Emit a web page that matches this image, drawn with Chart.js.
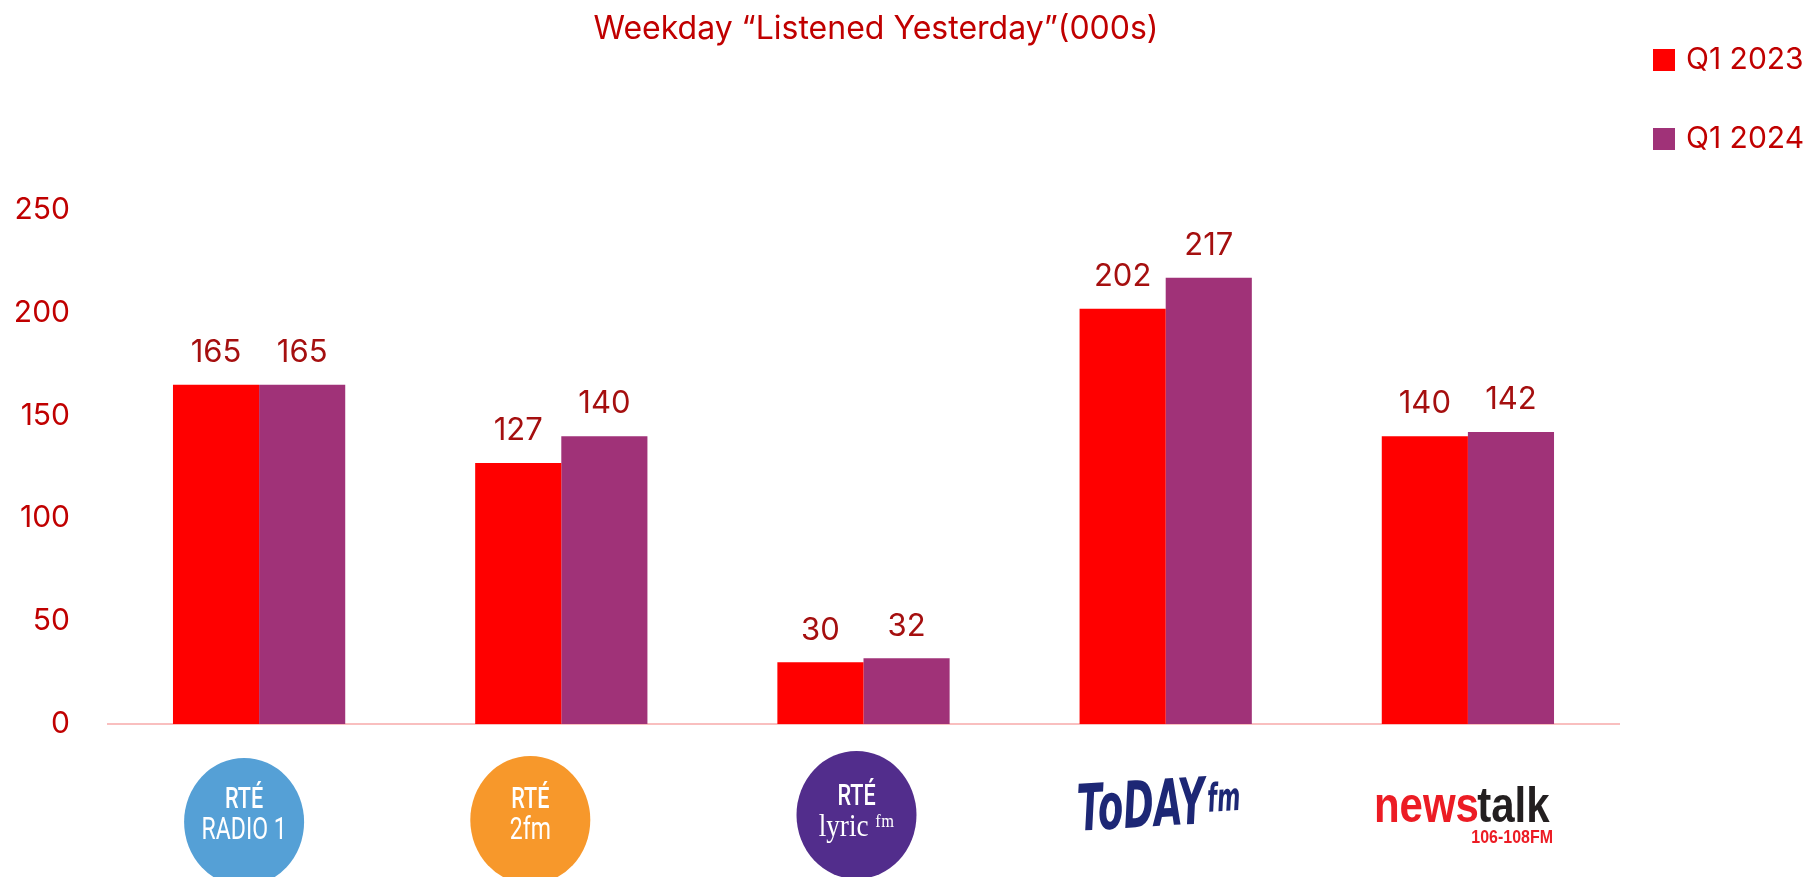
<!DOCTYPE html>
<html>
<head>
<meta charset="utf-8">
<script src="https://cdn.jsdelivr.net/npm/chart.js@4.4.0/dist/chart.umd.min.js"></script>
<style>
  html, body { margin: 0; padding: 0; background: #fff; }
  #wrap { width: 1816px; height: 877px; }
</style>
</head>
<body>
<div id="wrap"><canvas id="chart" width="1816" height="877"></canvas></div>
<script>
// data
const stations = ['RTÉ Radio 1', 'RTÉ 2fm', 'RTÉ lyric fm', 'Today FM', 'Newstalk'];
const seriesNames = ['Q1 2023', 'Q1 2024'];
const q1_2023 = [165, 127, 30, 202, 140];
const q1_2024 = [165, 140, 32, 217, 142];
const yTicks = [0, 50, 100, 150, 200, 250];
const chartTitle = 'Weekday “Listened Yesterday”(000s)';

const FONT = "Inter, 'Noto Sans', sans-serif";
const TEXT_RED = '#C00000';
const LABEL_RED = '#A50F0F';
const colors = ['#FF0000', '#A03278'];

// title + legend drawn in fixed spots, like the slide
const headerPlugin = {
  id: 'header',
  afterDraw(chart) {
    const ctx = chart.ctx;
    ctx.save();
    ctx.fillStyle = TEXT_RED;
    ctx.font = `32px ${FONT}`;
    ctx.textAlign = 'center';
    ctx.textBaseline = 'middle';
    ctx.fillText(chartTitle, 876, 29);

    chart.data.datasets.forEach((ds, i) => {
      const y = 60 + i * 79;
      ctx.fillStyle = ds.backgroundColor;
      ctx.fillRect(1653, y - 11, 22, 22);
      ctx.fillStyle = TEXT_RED;
      ctx.textAlign = 'left';
      ctx.font = `30px ${FONT}`;
      ctx.fillText(ds.label, 1686, y);
    });
    ctx.restore();
  }
};

// value labels above each bar
const valueLabels = {
  id: 'valueLabels',
  afterDatasetsDraw(chart) {
    const ctx = chart.ctx;
    ctx.save();
    ctx.fillStyle = LABEL_RED;
    ctx.font = `31px ${FONT}`;
    ctx.textAlign = 'center';
    ctx.textBaseline = 'middle';
    chart.data.datasets.forEach((ds, di) => {
      chart.getDatasetMeta(di).data.forEach((bar, i) => {
        ctx.fillText(ds.data[i], bar.x, bar.y - 32);
      });
    });
    ctx.restore();
  }
};

function roundBadge(ctx, x, y, fill, lines) {
  ctx.fillStyle = fill;
  ctx.beginPath();
  ctx.ellipse(x, y, 60, 64, 0, 0, Math.PI * 2);
  ctx.fill();
  ctx.fillStyle = '#fff';
  ctx.textAlign = 'center';
  ctx.textBaseline = 'middle';
  lines.forEach(l => {
    ctx.save();
    ctx.translate(x, y + l.dy);
    ctx.scale(l.sx || 0.72, 1);
    ctx.font = l.font;
    ctx.fillText(l.text, 0, 0);
    ctx.restore();
  });
}

const logoOffsets = [-15, -31, -7, 0, -4];

function drawLogo(ctx, i, x) {
  const cx = x + logoOffsets[i];
  switch (i) {
    case 0:
      roundBadge(ctx, cx, 822, '#55A0D6', [
        { text: 'RTÉ', dy: -22, font: `500 30px Roboto, sans-serif` },
        { text: 'RADIO 1', dy: 9, font: `32px Roboto, sans-serif` },
      ]);
      break;
    case 1:
      roundBadge(ctx, cx, 820, '#F7982B', [
        { text: 'RTÉ', dy: -20, font: `500 30px Roboto, sans-serif` },
        { text: '2fm', dy: 11, font: `32px Roboto, sans-serif` },
      ]);
      break;
    case 2:
      roundBadge(ctx, cx, 815, '#522D8C', [
        { text: 'RTÉ', dy: -18, font: `500 30px Roboto, sans-serif` },
        { text: 'lyric ᶠᵐ', dy: 13, font: `32px 'Liberation Serif', serif`, sx: 0.85 },
      ]);
      break;
    case 3:
      ctx.save();
      ctx.fillStyle = '#1D2775';
      ctx.textBaseline = 'middle';
      ctx.textAlign = 'left';
      ctx.translate(cx - 88, 814);
      ctx.rotate(-0.06);
      ctx.font = `italic 900 56px 'DejaVu Sans', sans-serif`;
      ctx.scale(0.66, 1.15);
      ctx.fillText('ToDAY', 0, 0);
      const w = ctx.measureText('ToDAY').width;
      ctx.font = `italic bold 34px 'DejaVu Sans', sans-serif`;
      ctx.fillText('fm', w + 4, -4);
      ctx.restore();
      break;
    case 4:
      ctx.save();
      ctx.textBaseline = 'alphabetic';
      ctx.textAlign = 'left';
      ctx.font = `bold 50px 'Liberation Sans', sans-serif`;
      ctx.translate(cx - 90, 822);
      ctx.scale(0.84, 1);
      ctx.fillStyle = '#EC1C24';
      ctx.fillText('news', 0, 0);
      const nw = ctx.measureText('news').width;
      ctx.fillStyle = '#231F20';
      ctx.fillText('talk', nw - 2, 0);
      ctx.fillStyle = '#EC1C24';
      ctx.font = `bold 19px 'Liberation Sans', sans-serif`;
      ctx.fillText('106-108FM', 116, 21);
      ctx.restore();
      break;
  }
}

const logoPlugin = {
  id: 'logos',
  afterDraw(chart) {
    const ctx = chart.ctx;
    const xs = chart.scales.x;
    ctx.save();
    stations.forEach((s, i) => drawLogo(ctx, i, xs.getPixelForValue(i)));
    ctx.restore();
  }
};

new Chart(document.getElementById('chart'), {
  type: 'bar',
  data: {
    labels: stations,
    datasets: [
      { label: seriesNames[0], data: q1_2023, backgroundColor: colors[0] },
      { label: seriesNames[1], data: q1_2024, backgroundColor: colors[1] },
    ],
  },
  options: {
    responsive: false,
    animation: false,
    devicePixelRatio: 1,
    layout: { padding: { top: 210, bottom: 153, left: 0, right: 197 } },
    datasets: {
      bar: { categoryPercentage: 0.57, barPercentage: 1.0 },
    },
    plugins: {
      legend: { display: false },
      title: { display: false },
      tooltip: { enabled: false },
    },
    scales: {
      x: {
        grid: { display: false, drawTicks: false },
        border: { display: true, color: '#F9BFBF', width: 2 },
        ticks: { display: false },
        afterFit: s => { s.height = 0; },
      },
      y: {
        min: 0,
        max: 250,
        grid: { display: false, drawTicks: false },
        border: { display: false },
        afterFit: s => { s.width = 108; },
        afterBuildTicks: s => { s.ticks = yTicks.map(v => ({ value: v })); },
        ticks: {
          color: TEXT_RED,
          padding: 38,
          font: { family: FONT, size: 30 },
        },
      },
    },
  },
  plugins: [headerPlugin, valueLabels, logoPlugin],
});
</script>
</body>
</html>
